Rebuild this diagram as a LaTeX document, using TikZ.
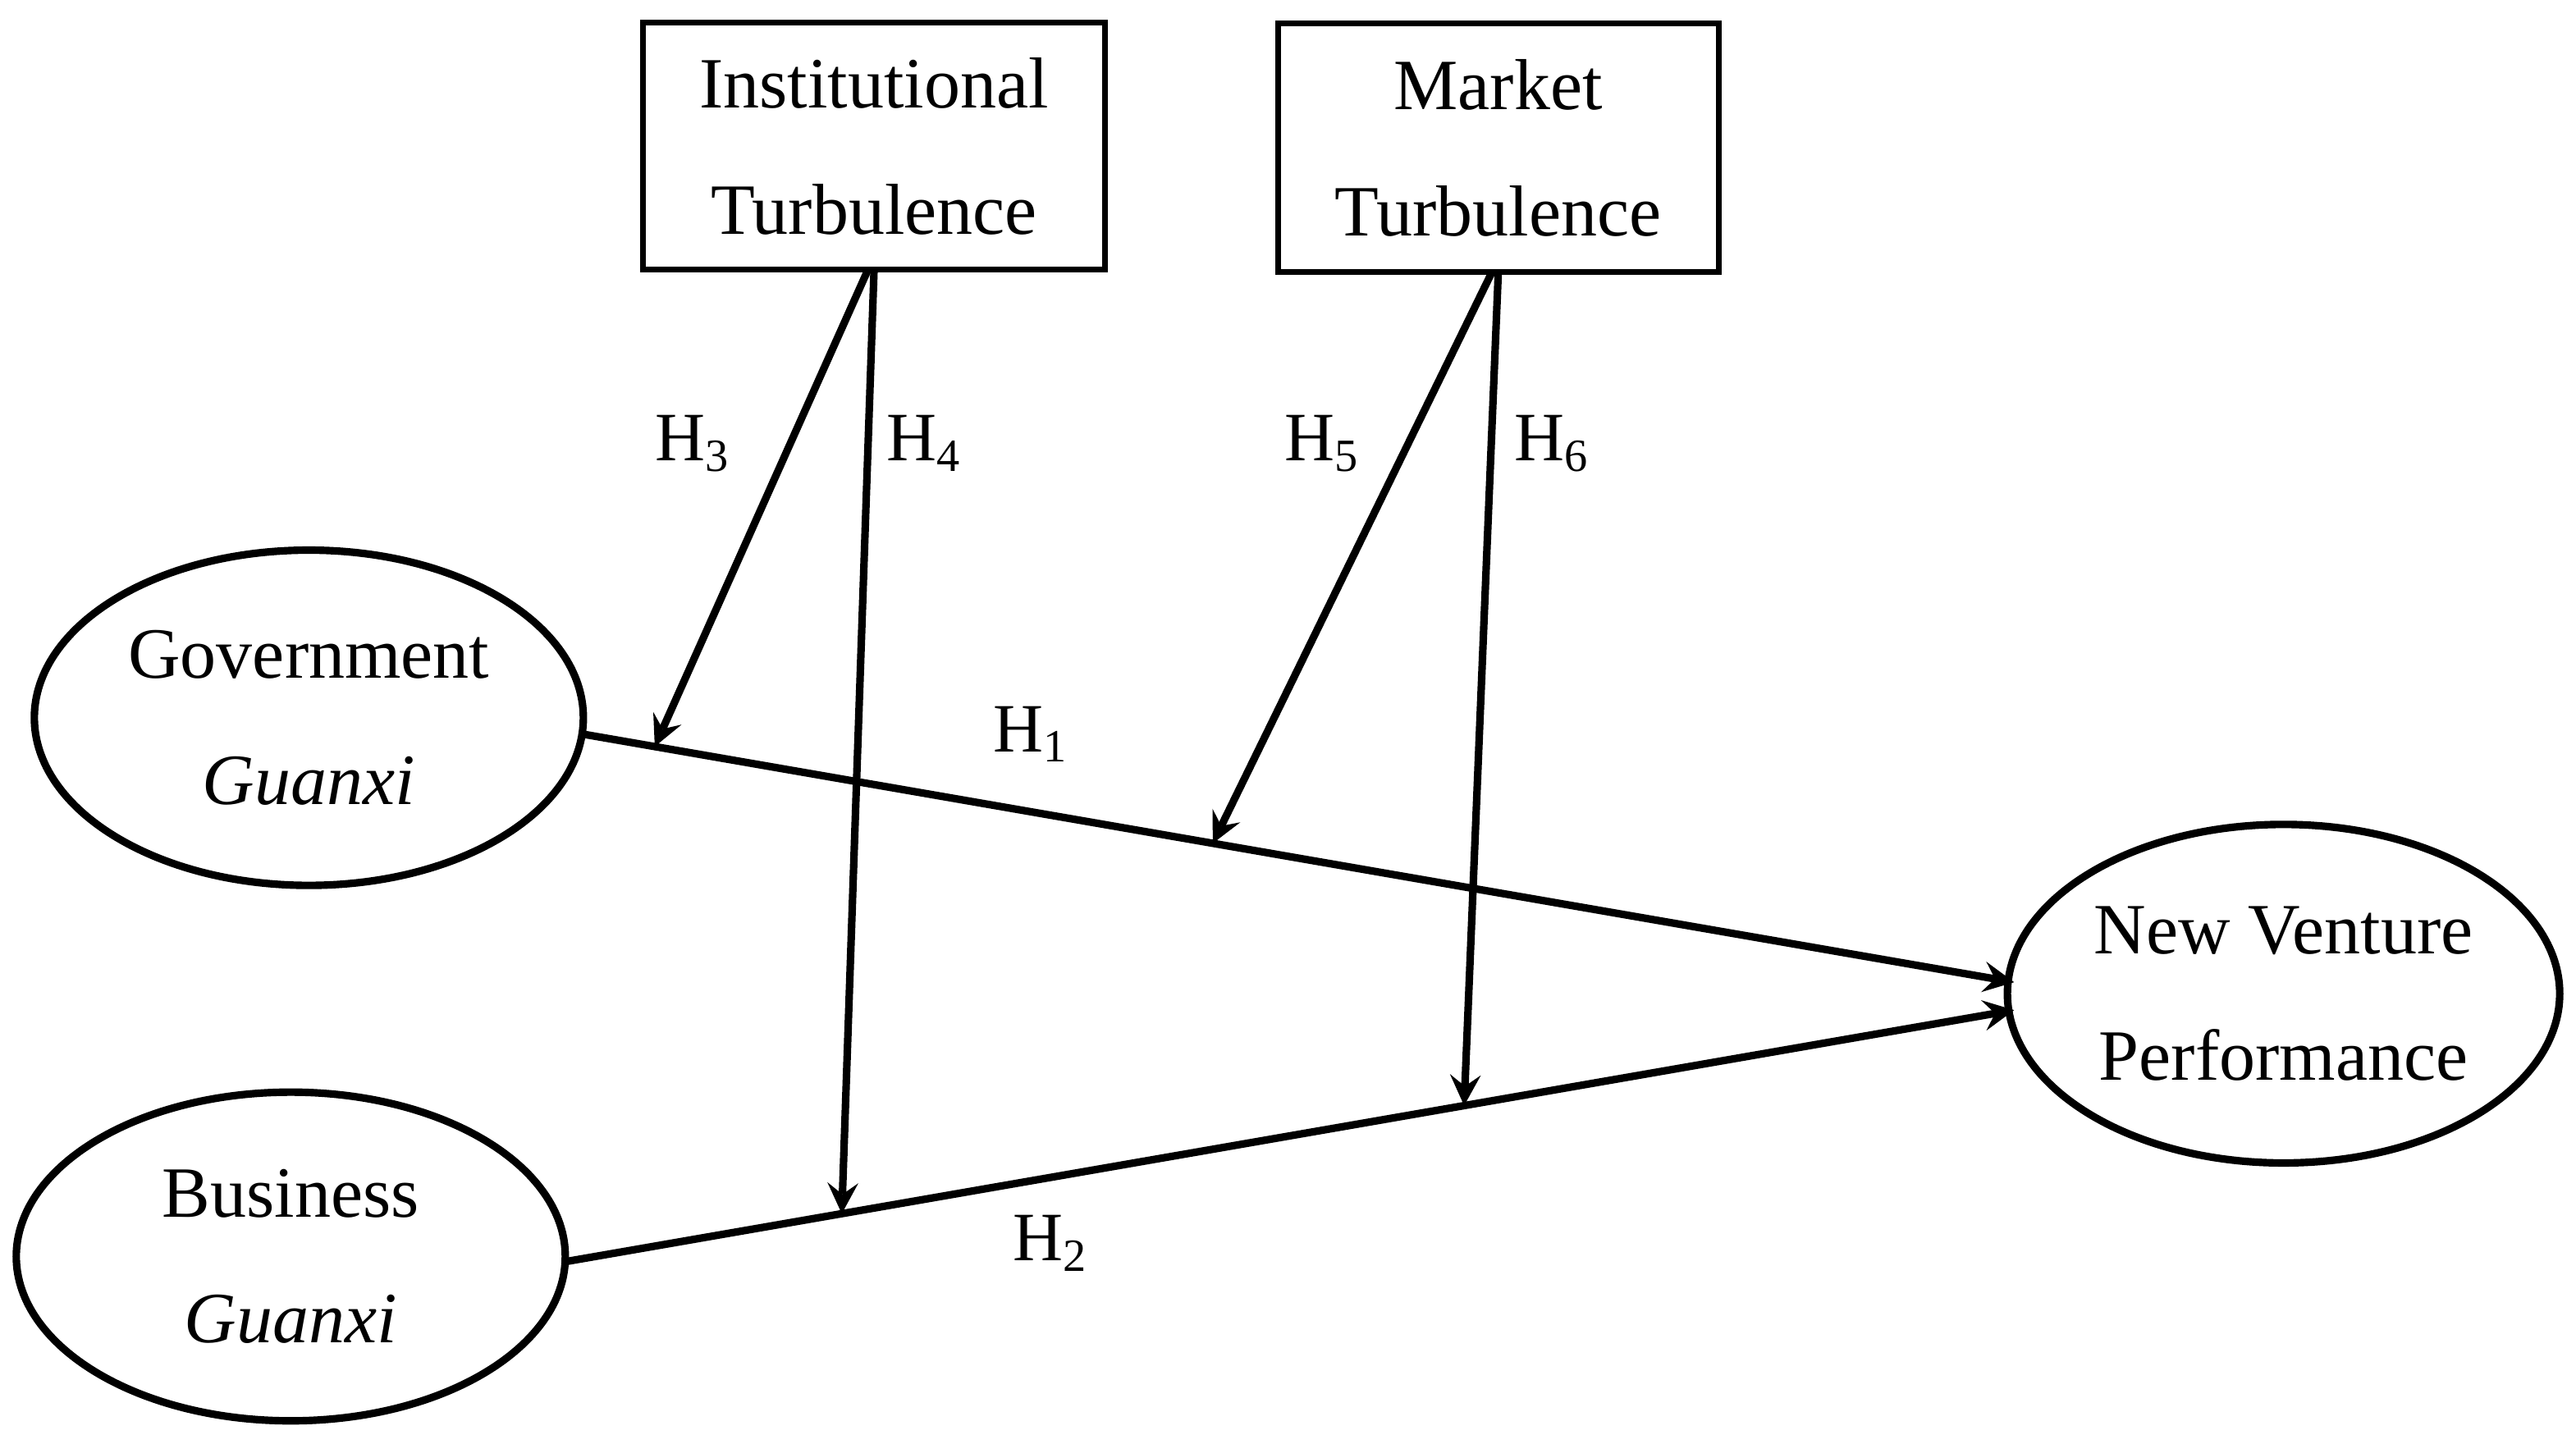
\documentclass[tikz,border=0pt]{standalone}
\usepackage{fontspec}
\setmainfont{Liberation Serif}
\usetikzlibrary{shapes.geometric,arrows,calc}
\tikzstyle{arrow} = [line width=1.3pt,->,>=stealth]
\tikzstyle{box} = [rectangle, minimum width=2.81cm, minimum height=1.5cm, align=center, draw=black, line width=1pt]
\tikzstyle{construct} = [ellipse, inner sep=0pt, minimum width=3.34cm, minimum height=2.04cm, align=center, draw=black, line width=1.3pt]
\tikzstyle{hyp} = [font=\fontsize{12}{15}\selectfont]

\begin{document}
\begin{tikzpicture}[x=0.01cm,y=-0.01cm,font=\fontsize{12.5}{19}\selectfont]
                 \useasboundingbox (0,0) rectangle (1568,879);
                 \node (it) [box] at (532,89) {Institutional\\[0.1cm]Turbulence};
                 \node (mt) [box, minimum width=2.68cm, minimum height=1.51cm] at (912,90) {Market\\[0.1cm]Turbulence};
                 \node (gg) [construct] at (188,437) {Government\\[0.1cm]\textit{Guanxi}};
                 \node (bg) [construct, minimum height=2cm] at (177,765) {Business\\[0.1cm]\textit{Guanxi}};
                 \node (nvp) [construct, minimum width=3.36cm, minimum height=2.06cm] at (1390,605) {New Venture\\[0.1cm]Performance};
                 \coordinate (g1) at (355,447);
                 \coordinate (b1) at (345,768);
                 \coordinate (n1) at (1226,598);
                 \coordinate (n2) at (1226,615);
                 \coordinate (h3) at ($(g1)!0.05!(n1)$);
                 \coordinate (h5) at ($(g1)!0.44!(n1)$);
                 \coordinate (h4) at ($(b1)!0.19!(n2)$);
                 \coordinate (h6) at ($(b1)!0.62!(n2)$);
                 \coordinate (it3) at (528,165);
                 \coordinate (it4) at (532,165);
                 \coordinate (mt5) at (908,166);
                 \coordinate (mt6) at (912,166);
                 \draw [arrow] (g1) -- (n1);
                 \draw [arrow] (b1) -- (n2);
                 \draw [arrow] (it3) -- (h3);
                 \draw [arrow] (it4) -- (h4);
                 \draw [arrow] (mt5) -- (h5);
                 \draw [arrow] (mt6) -- (h6);
                 \node (l1) [hyp] at (628,447) {H\textsubscript{1}};
                 \node (l2) [hyp] at (640,757) {H\textsubscript{2}};
                 \node (l3) [hyp] at (422,270) {H\textsubscript{3}};
                 \node (l4) [hyp] at (563,270) {H\textsubscript{4}};
                 \node (l5) [hyp] at (805,270) {H\textsubscript{5}};
                 \node (l6) [hyp] at (945,270) {H\textsubscript{6}};
             \end{tikzpicture}
\end{document}
